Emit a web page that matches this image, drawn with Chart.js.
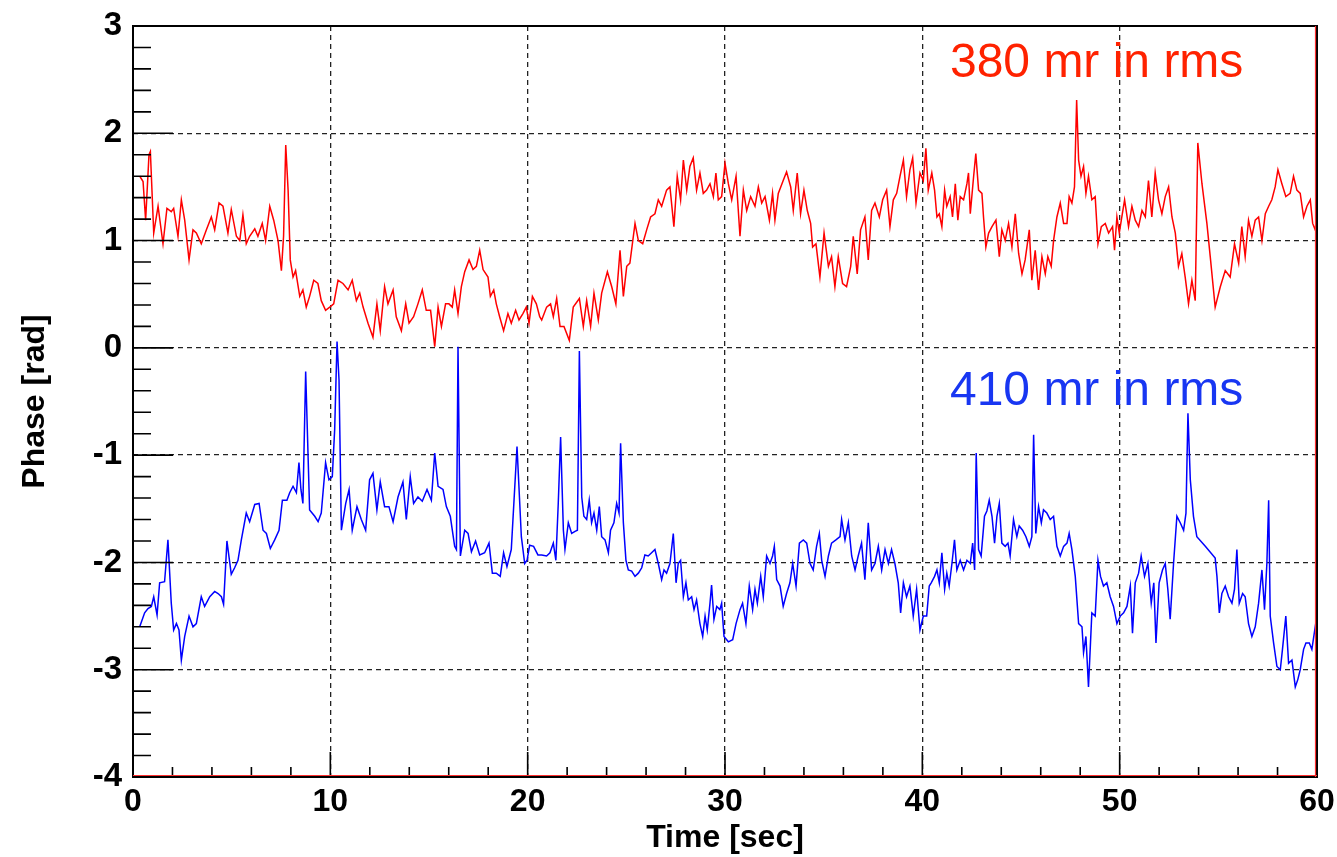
<!DOCTYPE html>
<html>
<head>
<meta charset="utf-8">
<script src="https://cdn.jsdelivr.net/npm/chart.js@4/dist/chart.umd.min.js"></script>
<style>
  html, body { margin: 0; padding: 0; background: #fff; }
  canvas { display: block; }
</style>
</head>
<body>
<canvas id="phaseChart" width="1337" height="857"></canvas>
<script>
// axis ranges (Time [sec] x Phase [rad])
const timeRange = [0, 60];
const phaseRange = [-4, 3];

// red trace, [time sec, phase rad]
const redTrace = [
  [0.34,1.60],[0.51,1.55],[0.64,1.19],[0.81,1.80],[0.88,1.83],[1.05,1.07],[1.27,1.32],[1.52,0.97],
  [1.72,1.30],[1.94,1.27],[2.06,1.30],[2.28,1.04],[2.45,1.38],[2.62,1.19],[2.84,0.82],[3.04,1.10],
  [3.21,1.07],[3.46,0.97],[3.72,1.10],[3.97,1.22],[4.14,1.10],[4.36,1.35],[4.56,1.32],[4.81,1.07],
  [4.98,1.29],[5.24,1.04],[5.41,1.00],[5.57,1.24],[5.74,0.97],[5.91,1.04],[6.17,1.11],[6.33,1.04],
  [6.55,1.16],[6.72,1.00],[6.93,1.32],[7.13,1.19],[7.35,1.00],[7.52,0.72],[7.63,1.04],[7.74,1.89],
  [7.86,1.47],[7.97,0.82],[8.11,0.66],[8.24,0.72],[8.45,0.48],[8.61,0.54],[8.78,0.38],[8.95,0.48],
  [9.16,0.63],[9.37,0.60],[9.54,0.44],[9.76,0.35],[9.97,0.38],[10.17,0.41],[10.39,0.63],[10.64,0.60],
  [10.90,0.54],[11.11,0.63],[11.32,0.44],[11.49,0.51],[11.66,0.38],[11.91,0.23],[12.16,0.10],[12.36,0.41],
  [12.53,0.16],[12.75,0.57],[12.92,0.41],[13.18,0.54],[13.34,0.29],[13.60,0.16],[13.82,0.41],[13.99,0.23],
  [14.22,0.29],[14.44,0.41],[14.66,0.54],[14.86,0.35],[15.08,0.35],[15.29,0.01],[15.46,0.38],[15.63,0.20],
  [15.84,0.41],[16.01,0.41],[16.18,0.38],[16.30,0.54],[16.47,0.32],[16.64,0.57],[16.81,0.71],[17.03,0.82],
  [17.23,0.73],[17.40,0.76],[17.57,0.91],[17.74,0.73],[17.99,0.66],[18.11,0.48],[18.28,0.54],[18.41,0.41],
  [18.58,0.29],[18.78,0.16],[19.00,0.32],[19.17,0.23],[19.39,0.35],[19.56,0.26],[19.76,0.32],[19.93,0.38],
  [20.07,0.23],[20.24,0.48],[20.44,0.41],[20.61,0.29],
  [20.71,0.26],[20.96,0.38],[21.16,0.41],[21.30,0.29],[21.47,0.46],[21.64,0.20],[21.84,0.20],[22.11,0.07],
  [22.31,0.38],[22.62,0.46],[22.82,0.20],[22.99,0.44],[23.19,0.20],[23.36,0.51],[23.58,0.26],[23.75,0.51],
  [24.04,0.71],[24.26,0.57],[24.47,0.41],[24.68,0.91],[24.85,0.48],[25.02,0.76],[25.18,0.79],[25.44,1.16],
  [25.61,1.00],[25.83,0.97],[26.03,1.10],[26.23,1.22],[26.45,1.25],[26.62,1.38],[26.79,1.32],[27.04,1.47],
  [27.21,1.50],[27.41,1.13],[27.58,1.60],[27.75,1.38],[27.89,1.75],[28.06,1.47],[28.22,1.69],[28.39,1.77],
  [28.56,1.47],[28.73,1.63],[28.90,1.44],[29.07,1.47],[29.24,1.53],[29.41,1.41],[29.54,1.63],[29.66,1.38],
  [29.83,1.41],[30.00,1.72],[30.17,1.53],[30.34,1.38],[30.56,1.60],[30.76,1.04],[30.93,1.47],[31.10,1.28],
  [31.30,1.41],[31.52,1.32],[31.69,1.50],[31.86,1.35],[32.03,1.41],[32.25,1.19],[32.41,1.44],[32.53,1.19],
  [32.70,1.44],[32.95,1.56],[33.12,1.64],[33.33,1.50],[33.46,1.28],[33.66,1.63],[33.83,1.25],[34.00,1.47],
  [34.17,1.28],[34.34,1.16],[34.44,0.94],[34.61,0.97],[34.81,0.66],[35.02,1.07],[35.24,0.76],[35.40,0.85],
  [35.57,0.57],[35.74,0.85],[35.96,0.60],[36.16,0.57],[36.37,0.76],[36.50,1.04],[36.70,0.69],[36.87,1.10],
  [37.09,1.22],[37.26,0.82],[37.43,1.28],[37.60,1.35],[37.82,1.22],[37.99,1.38],[38.19,1.47],[38.36,1.13],
  [38.53,1.38],[38.70,1.44],[38.87,1.60],[39.04,1.75],[39.20,1.41],[39.37,1.66],[39.51,1.77],[39.68,1.35],
  [39.88,1.63],[40.05,1.56],[40.18,1.86],[40.30,1.47],
  [40.48,1.63],[40.62,1.47],[40.74,1.22],[40.86,1.25],[40.99,1.13],[41.13,1.47],[41.24,1.32],[41.41,1.41],
  [41.53,1.22],[41.67,1.53],[41.80,1.19],[41.92,1.41],[42.09,1.38],[42.26,1.53],[42.34,1.63],[42.43,1.25],
  [42.60,1.60],[42.71,1.81],[42.85,1.47],[43.02,1.44],[43.10,1.22],[43.22,0.94],[43.36,1.07],[43.53,1.13],
  [43.73,1.19],[43.90,0.85],[44.03,1.10],[44.20,1.00],[44.37,1.16],[44.54,0.94],[44.71,1.25],[44.88,0.88],
  [45.05,0.69],[45.21,0.82],[45.42,1.10],[45.55,0.63],[45.72,0.91],[45.89,0.54],[46.06,0.85],[46.23,0.69],
  [46.36,0.85],[46.53,0.76],[46.65,1.00],[46.82,1.22],[46.99,1.35],[47.16,1.16],[47.33,1.16],[47.44,1.41],
  [47.58,1.35],[47.71,1.50],[47.82,2.31],[47.92,1.75],[48.04,1.60],[48.17,1.69],[48.29,1.44],[48.42,1.60],
  [48.59,1.38],[48.76,1.41],[48.90,0.97],[49.07,1.13],[49.27,1.16],[49.44,1.07],[49.64,1.13],[49.74,0.91],
  [49.86,1.22],[49.98,1.07],[50.11,1.22],[50.25,1.38],[50.45,1.13],[50.62,1.32],[50.79,1.19],[50.96,1.13],
  [51.13,1.28],[51.30,1.22],[51.46,1.56],[51.63,1.22],[51.80,1.63],[51.97,1.38],[52.14,1.25],[52.31,1.41],
  [52.48,1.50],[52.65,1.22],[52.82,1.07],[52.98,0.76],[53.15,0.88],[53.32,0.66],[53.49,0.41],[53.66,0.63],
  [53.83,0.44],[53.96,1.91],[54.17,1.53],[54.42,1.16],[54.59,0.85],[54.84,0.38],[55.10,0.57],[55.35,0.72],
  [55.60,0.66],[55.82,0.97],[56.03,0.79],[56.19,1.13],[56.36,0.85],[56.53,1.19],[56.70,1.04],[56.87,1.19],
  [57.04,1.22],[57.21,1.00],[57.38,1.25],[57.55,1.32],[57.71,1.38],[57.88,1.50],[58.02,1.66],[58.22,1.53],
  [58.42,1.41],[58.64,1.44],[58.81,1.60],[58.98,1.47],[59.15,1.44],[59.32,1.22],[59.49,1.32],[59.66,1.38],
  [59.78,1.16],[59.91,1.10],[60.00,1.25]
];

// blue trace, [time sec, phase rad]
const blueTrace = [
  [0.34,-2.60],[0.59,-2.47],[0.76,-2.43],[0.93,-2.41],[1.05,-2.32],[1.22,-2.49],[1.35,-2.19],[1.60,-2.18],
  [1.77,-1.79],[1.94,-2.38],[2.06,-2.63],[2.20,-2.57],[2.33,-2.63],[2.45,-2.91],[2.62,-2.69],[2.84,-2.50],
  [3.04,-2.60],[3.21,-2.57],[3.46,-2.32],[3.63,-2.41],[3.89,-2.32],[4.14,-2.27],[4.31,-2.29],[4.48,-2.32],
  [4.59,-2.39],[4.76,-1.80],[4.98,-2.11],[5.15,-2.05],[5.32,-1.98],[5.49,-1.79],[5.74,-1.54],[5.91,-1.62],
  [6.17,-1.46],[6.39,-1.45],[6.59,-1.70],[6.76,-1.73],[6.96,-1.87],[7.18,-1.79],[7.40,-1.70],[7.57,-1.42],
  [7.80,-1.42],[7.94,-1.35],[8.11,-1.29],[8.28,-1.35],[8.41,-1.07],[8.51,-1.32],[8.61,-1.45],[8.75,-0.22],
  [8.95,-1.51],[9.21,-1.57],[9.38,-1.62],[9.54,-1.54],[9.76,-1.07],[9.93,-1.23],[10.10,-1.20],[10.22,-0.76],
  [10.34,0.06],[10.44,-0.30],[10.56,-1.70],[10.78,-1.45],[10.95,-1.32],[11.11,-1.70],[11.35,-1.48],[11.57,-1.60],
  [11.79,-1.70],[11.99,-1.23],[12.16,-1.17],[12.36,-1.51],[12.53,-1.25],[12.75,-1.48],[12.97,-1.48],[13.18,-1.62],
  [13.43,-1.39],[13.68,-1.25],[13.85,-1.60],[14.05,-1.20],[14.22,-1.45],[14.44,-1.39],[14.66,-1.43],[14.90,-1.32],
  [15.12,-1.42],[15.29,-0.98],[15.46,-1.29],[15.71,-1.32],[15.88,-1.48],[16.08,-1.57],[16.30,-1.85],[16.39,-1.88],
  [16.47,0.01],[16.59,-1.94],[16.81,-1.70],[16.98,-1.73],[17.15,-1.90],[17.36,-1.80],[17.57,-1.93],[17.82,-1.91],
  [18.04,-1.82],[18.21,-2.10],[18.41,-2.10],[18.61,-2.13],[18.78,-1.91],[18.95,-2.04],[19.17,-1.88],[19.46,-0.92],
  [19.68,-1.76],[19.85,-2.01],[19.97,-1.98],[20.10,-1.84],[20.30,-1.85],[20.52,-1.93],
  [20.71,-1.93],[20.96,-1.94],[21.13,-1.91],[21.30,-1.82],[21.43,-1.98],[21.55,-1.45],[21.67,-0.83],[21.81,-1.70],
  [21.89,-1.88],[22.06,-1.63],[22.23,-1.73],[22.40,-1.71],[22.52,-1.70],[22.62,-0.03],[22.74,-1.39],[22.85,-1.57],
  [22.99,-1.60],[23.12,-1.42],[23.24,-1.63],[23.36,-1.54],[23.50,-1.70],[23.63,-1.48],[23.75,-1.76],[23.92,-1.79],
  [24.09,-1.91],[24.20,-1.70],[24.37,-1.63],[24.51,-1.45],[24.63,-1.54],[24.71,-0.89],[24.85,-1.63],[24.98,-1.98],
  [25.10,-2.07],[25.27,-2.08],[25.44,-2.13],[25.61,-2.10],[25.78,-2.05],[25.94,-1.93],[26.11,-1.94],[26.28,-1.91],
  [26.45,-1.88],[26.62,-2.01],[26.79,-2.16],[26.91,-2.07],[27.04,-2.10],[27.21,-2.01],[27.38,-1.73],[27.52,-2.19],
  [27.63,-2.01],[27.75,-1.98],[27.89,-2.32],[28.02,-2.19],[28.14,-2.35],[28.31,-2.32],[28.43,-2.44],[28.56,-2.35],
  [28.73,-2.57],[28.87,-2.69],[28.99,-2.50],[29.10,-2.63],[29.24,-2.38],[29.32,-2.21],[29.44,-2.53],[29.58,-2.41],
  [29.74,-2.44],[29.83,-2.38],[29.95,-2.69],[30.17,-2.74],[30.39,-2.72],[30.56,-2.57],[30.76,-2.44],[30.89,-2.38],
  [31.06,-2.57],[31.23,-2.22],[31.40,-2.44],[31.52,-2.25],[31.64,-2.38],[31.81,-2.13],[31.94,-2.32],[32.11,-1.94],
  [32.28,-2.01],[32.41,-1.94],[32.50,-1.85],[32.62,-2.16],[32.79,-2.22],[32.95,-2.41],[33.12,-2.29],[33.29,-2.19],
  [33.43,-2.01],[33.60,-2.22],[33.77,-1.82],[33.97,-1.79],[34.14,-1.82],[34.31,-2.01],[34.47,-2.07],[34.64,-1.85],
  [34.78,-1.73],[34.90,-1.98],[35.07,-2.13],[35.24,-1.94],[35.40,-1.82],[35.62,-1.79],[35.83,-1.76],[35.91,-1.60],
  [36.08,-1.79],[36.25,-1.63],[36.42,-1.94],[36.59,-2.07],[36.75,-1.94],[36.92,-1.82],[37.09,-2.16],[37.26,-1.63],
  [37.43,-2.07],[37.60,-2.01],[37.77,-1.85],[37.94,-2.07],[38.11,-1.88],[38.28,-2.01],[38.44,-1.88],[38.61,-2.01],
  [38.78,-2.19],[38.90,-2.47],[39.04,-2.19],[39.20,-2.32],[39.37,-2.22],[39.54,-2.50],[39.71,-2.25],[39.88,-2.63],
  [40.05,-2.50],[40.22,-2.50],[40.35,-2.22],
  [40.45,-2.19],[40.62,-2.13],[40.74,-2.07],[40.86,-2.19],[40.99,-1.91],[41.13,-2.25],[41.24,-2.10],[41.36,-2.22],
  [41.50,-2.01],[41.63,-1.79],[41.75,-2.07],[41.92,-1.98],[42.09,-2.07],[42.26,-1.98],[42.43,-2.01],[42.55,-1.82],
  [42.65,-2.07],[42.73,-0.98],[42.85,-1.88],[42.98,-1.94],[43.15,-1.57],[43.27,-1.52],[43.39,-1.42],[43.53,-1.57],
  [43.66,-1.82],[43.78,-1.57],[43.90,-1.45],[44.03,-1.82],[44.20,-1.85],[44.34,-1.82],[44.45,-1.94],[44.62,-1.60],
  [44.79,-1.76],[44.91,-1.66],[45.08,-1.70],[45.25,-1.76],[45.42,-1.85],[45.55,-1.76],[45.64,-0.81],[45.75,-1.73],
  [45.89,-1.48],[46.03,-1.63],[46.14,-1.51],[46.31,-1.54],[46.48,-1.60],[46.65,-1.57],[46.82,-1.85],[46.99,-1.94],
  [47.16,-1.85],[47.33,-1.82],[47.44,-1.73],[47.58,-1.88],[47.75,-2.13],[47.92,-2.57],[48.09,-2.60],[48.17,-2.84],
  [48.29,-2.69],[48.42,-3.16],[48.59,-2.47],[48.76,-2.50],[48.90,-1.98],[49.03,-2.13],[49.18,-2.22],[49.35,-2.19],
  [49.52,-2.32],[49.69,-2.41],[49.86,-2.57],[50.03,-2.50],[50.20,-2.47],[50.37,-2.41],[50.54,-2.22],[50.65,-2.66],
  [50.79,-2.19],[50.96,-2.10],[51.09,-1.94],[51.26,-2.13],[51.43,-2.01],[51.60,-2.38],[51.73,-2.19],[51.84,-2.75],
  [52.00,-2.19],[52.17,-2.07],[52.31,-2.01],[52.44,-2.25],[52.56,-2.53],[52.73,-2.01],[52.90,-1.57],[53.07,-1.63],
  [53.24,-1.70],[53.36,-1.54],[53.46,-0.61],[53.58,-1.23],[53.74,-1.57],[53.91,-1.76],[54.34,-1.85],[54.84,-1.96],
  [54.93,-2.13],[55.05,-2.47],[55.18,-2.29],[55.35,-2.22],[55.52,-2.32],[55.69,-2.38],[55.82,-2.25],[55.94,-1.88],
  [56.06,-2.38],[56.23,-2.29],[56.36,-2.32],[56.53,-2.57],[56.70,-2.69],[56.87,-2.60],[57.04,-2.38],[57.21,-2.07],
  [57.34,-2.44],[57.46,-2.01],[57.55,-1.42],[57.63,-2.50],[57.80,-2.75],[57.97,-2.97],[58.14,-3.00],[58.25,-2.81],
  [58.42,-2.50],[58.56,-2.94],[58.73,-2.91],[58.90,-3.16],[59.03,-3.09],[59.15,-3.00],[59.32,-2.81],[59.44,-2.75],
  [59.61,-2.75],[59.74,-2.81],[59.91,-2.60],[60.00,-2.72]
];

const rmsNotes = [
  { text: "380 mr in rms", time: 41.4, phase: 2.52, color: "#ff2200" },
  { text: "410 mr in rms", time: 41.4, phase: -0.53, color: "#1836f2" },
];

const FONT = '"Liberation Sans", Arial, sans-serif';

// ROOT-like inside ticks, frame and the rms notes
const rootFrame = {
  id: "rootFrame",
  afterDatasetsDraw(chart) {
    const { ctx, chartArea: a, scales } = chart;
    const x = scales.x, y = scales.y;
    ctx.save();
    ctx.strokeStyle = "#000";
    ctx.lineWidth = 1.6;
    ctx.beginPath();
    for (let i = 0; i <= 30; i++) {
      const px = x.getPixelForValue(timeRange[0] + i * 2);
      const len = i % 5 === 0 ? 25 : 10;
      ctx.moveTo(px, a.bottom);
      ctx.lineTo(px, a.bottom - len);
    }
    for (let i = 0; i <= 35; i++) {
      const py = y.getPixelForValue(phaseRange[0] + i * 0.2);
      const len = i % 5 === 0 ? 40 : 18;
      ctx.moveTo(a.left, py);
      ctx.lineTo(a.left + len, py);
    }
    ctx.stroke();

    ctx.lineWidth = 2;
    ctx.strokeRect(a.left, a.top, a.right - a.left, a.bottom - a.top);
    ctx.strokeStyle = "#ff3030";
    ctx.lineWidth = 1.2;
    ctx.beginPath();
    ctx.moveTo(a.right - 1.5, a.top);
    ctx.lineTo(a.right - 1.5, a.bottom);
    ctx.moveTo(a.left, a.bottom - 1.5);
    ctx.lineTo(a.right, a.bottom - 1.5);
    ctx.stroke();

    ctx.font = "48px " + FONT;
    ctx.textBaseline = "alphabetic";
    ctx.textAlign = "left";
    rmsNotes.forEach((n) => {
      ctx.fillStyle = n.color;
      ctx.fillText(n.text, x.getPixelForValue(n.time), y.getPixelForValue(n.phase));
    });
    ctx.restore();
  },
};

const ctx = document.getElementById("phaseChart");
new Chart(ctx, {
  type: "line",
  data: {
    datasets: [
      {
        label: "380 mr in rms",
        data: redTrace.map(([t, v]) => ({ x: t, y: v })),
        borderColor: "#ff0000",
        borderWidth: 1.5,
        pointRadius: 0,
        tension: 0,
      },
      {
        label: "410 mr in rms",
        data: blueTrace.map(([t, v]) => ({ x: t, y: v })),
        borderColor: "#0000ff",
        borderWidth: 1.5,
        pointRadius: 0,
        tension: 0,
      },
    ],
  },
  options: {
    responsive: false,
    animation: false,
    devicePixelRatio: 1,
    layout: { padding: { top: 26, right: 20, bottom: 0, left: 0 } },
    plugins: { legend: { display: false }, tooltip: { enabled: false } },
    scales: {
      x: {
        type: "linear",
        min: timeRange[0],
        max: timeRange[1],
        ticks: {
          stepSize: 10,
          color: "#000",
          padding: 6,
          maxRotation: 0,
          font: { family: FONT, size: 32, weight: "bold" },
        },
        grid: { color: "#222", lineWidth: 1.3, drawTicks: false },
        border: { display: false, dash: [5, 4] },
        title: {
          display: true,
          text: "Time [sec]",
          color: "#000",
          padding: { top: 0, bottom: 0 },
          font: { family: FONT, size: 32, weight: "bold" },
        },
        afterFit(scale) {
          scale.height = 80;
          scale.paddingLeft = 0;
          scale.paddingRight = 0;
        },
      },
      y: {
        type: "linear",
        min: phaseRange[0],
        max: phaseRange[1],
        ticks: {
          stepSize: 1,
          color: "#000",
          padding: 11,
          font: { family: FONT, size: 33, weight: "bold" },
        },
        grid: { color: "#222", lineWidth: 1.3, drawTicks: false },
        border: { display: false, dash: [5, 4] },
        title: {
          display: true,
          text: "Phase [rad]",
          color: "#000",
          padding: { top: 16, bottom: 0 },
          font: { family: FONT, size: 32, weight: "bold" },
        },
        afterFit(scale) {
          scale.width = 133;
          scale.paddingTop = 0;
          scale.paddingBottom = 0;
        },
      },
    },
  },
  plugins: [rootFrame],
});
</script>
</body>
</html>
